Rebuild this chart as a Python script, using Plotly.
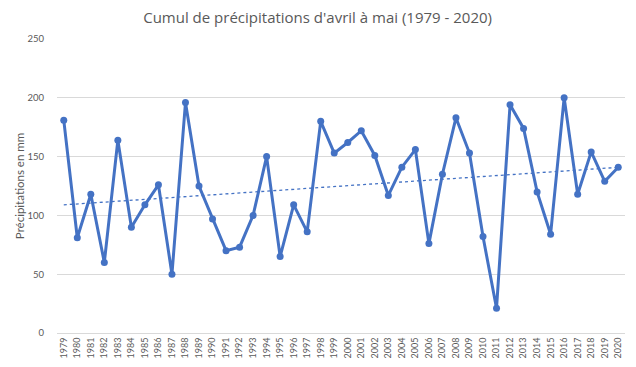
import numpy as np
import plotly.graph_objects as go

years = [str(y) for y in range(1979, 2021)]
precip = [181, 81, 118, 60, 164, 90, 109, 126, 50, 196, 125, 97,
          70, 73, 100, 150, 65, 109, 86, 180, 153, 162, 172, 151,
          117, 141, 156, 76, 135, 183, 153, 82, 21, 194, 174, 120,
          84, 200, 118, 154, 129, 141]
y_ticks = [0, 50, 100, 150, 200, 250]

idx = np.arange(len(precip))
slope, intercept = np.polyfit(idx, precip, 1)
trend = list(slope * idx + intercept)

color = "#4472C4"
fig = go.Figure()
fig.add_trace(go.Scatter(x=years, y=precip, mode="lines+markers",
                         line=dict(color=color, width=3),
                         marker=dict(color=color, size=7),
                         showlegend=False))
fig.add_trace(go.Scatter(x=years, y=trend, mode="lines",
                         line=dict(color=color, width=1.3, dash="dot"),
                         showlegend=False))

fig.update_layout(
    width=628, height=359,
    margin=dict(l=49, r=11, t=31, b=34),
    paper_bgcolor="white", plot_bgcolor="white",
    font=dict(family="Lato, Open Sans, sans-serif", color="#595959"),
    title=dict(text="Cumul de précipitations d'avril à mai (1979 - 2020)",
               x=0.493, xanchor="center", y=0.972, yanchor="middle",
               font=dict(family="Open Sans, sans-serif", size=15, color="#595959")),
    xaxis=dict(type="category", tickangle=-90, tickfont=dict(size=9),
               showgrid=False, showline=True, linecolor="#D9D9D9",
               ticks="", automargin=False, range=[-0.5, len(years) - 0.5]),
    yaxis=dict(range=[0, 250], tickvals=y_ticks, tickfont=dict(size=9.5),
               ticklabelstandoff=12,
               gridcolor="#D9D9D9", zeroline=False, ticks="", automargin=False,
               title=dict(text="Précipitations en mm", font=dict(size=11.5), standoff=0)),
)
fig.write_html("out.html")
